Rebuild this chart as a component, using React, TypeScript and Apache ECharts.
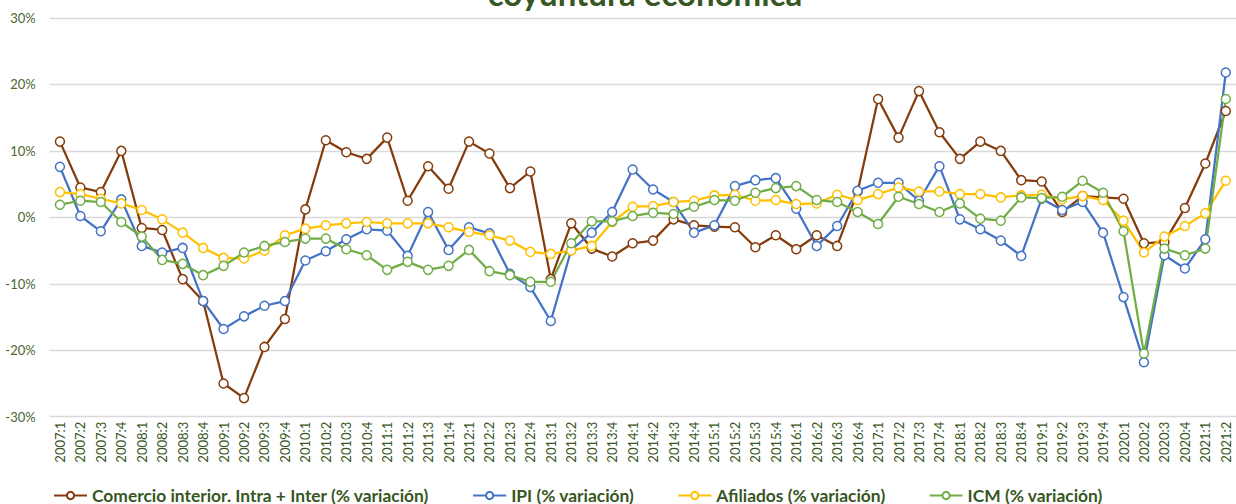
import React, { useEffect, useRef } from "react";
import * as echarts from "echarts";

const categories = [
  "2007:1","2007:2","2007:3","2007:4","2008:1","2008:2","2008:3","2008:4",
  "2009:1","2009:2","2009:3","2009:4","2010:1","2010:2","2010:3","2010:4",
  "2011:1","2011:2","2011:3","2011:4","2012:1","2012:2","2012:3","2012:4",
  "2013:1","2013:2","2013:3","2013:4","2014:1","2014:2","2014:3","2014:4",
  "2015:1","2015:2","2015:3","2015:4","2016:1","2016:2","2016:3","2016:4",
  "2017:1","2017:2","2017:3","2017:4","2018:1","2018:2","2018:3","2018:4",
  "2019:1","2019:2","2019:3","2019:4","2020:1","2020:2","2020:3","2020:4",
  "2021:1","2021:2"
];

const comercio = [11.4, 4.5, 3.8, 10.0, -1.6, -1.9, -9.3, -12.6, -25.0, -27.2, -19.5, -15.3, 1.2, 11.6, 9.8, 8.8, 12.0, 2.5, 7.7, 4.3, 11.4, 9.6, 4.4, 6.9, -9.3, -0.9, -4.7, -5.9, -3.9, -3.5, -0.3, -1.2, -1.4, -1.5, -4.5, -2.7, -4.8, -2.7, -4.3, 3.9, 17.8, 12.0, 19.0, 12.8, 8.8, 11.4, 10.0, 5.6, 5.4, 0.8, 3.2, 3.0, 2.8, -3.9, -3.7, 1.4, 8.1, 16.0];
const ipi = [7.6, 0.2, -2.1, 2.7, -4.3, -5.3, -4.6, -12.6, -16.8, -14.9, -13.3, -12.6, -6.5, -5.1, -3.3, -1.8, -2.0, -5.8, 0.8, -4.9, -1.5, -2.4, -8.5, -10.5, -15.6, -4.9, -2.3, 0.8, 7.2, 4.2, 2.3, -2.3, -1.2, 4.7, 5.6, 5.9, 1.3, -4.3, -1.3, 4.0, 5.2, 5.2, 2.5, 7.7, -0.3, -1.8, -3.5, -5.8, 2.8, 1.1, 2.3, -2.3, -12.0, -21.8, -5.7, -7.7, -3.3, 21.8];
const afiliados = [3.8, 3.5, 2.8, 2.1, 1.1, -0.3, -2.3, -4.6, -6.1, -6.2, -5.0, -2.7, -1.7, -1.2, -0.9, -0.7, -0.9, -0.9, -0.9, -1.5, -2.2, -2.7, -3.5, -5.2, -5.5, -5.0, -4.3, -0.7, 1.6, 1.7, 2.3, 2.5, 3.3, 3.4, 2.5, 2.6, 2.0, 2.1, 3.4, 2.6, 3.5, 4.5, 3.9, 3.9, 3.5, 3.5, 3.0, 3.3, 3.4, 2.7, 3.2, 2.6, -0.5, -5.3, -2.9, -1.3, 0.6, 5.5];
const icm = [1.9, 2.5, 2.3, -0.7, -2.9, -6.4, -7.0, -8.7, -7.3, -5.3, -4.3, -3.7, -3.2, -3.2, -4.8, -5.7, -7.9, -6.7, -7.9, -7.3, -4.9, -8.1, -8.7, -9.7, -9.7, -3.9, -0.6, -0.6, 0.2, 0.7, 0.5, 1.6, 2.6, 2.5, 3.7, 4.4, 4.7, 2.6, 2.3, 0.8, -1.0, 3.1, 2.0, 0.8, 2.1, -0.2, -0.5, 3.0, 2.9, 3.1, 5.5, 3.7, -2.1, -20.5, -4.7, -5.7, -4.7, 17.8];

const seriesNames = [
  "Comercio interior. Intra + Inter (% variación)",
  "IPI (% variación)",
  "Afiliados (% variación)",
  "ICM (% variación)"
];
const seriesColors = ["#843C0C", "#4472C4", "#FFC000", "#70AD47"];
const seriesData = [comercio, ipi, afiliados, icm];

const titleText = "coyuntura económica";
const textGreen = "#375623";
const FONT = "Lato, 'Open Sans', sans-serif";

export default function App() {
  const ref = useRef<HTMLDivElement>(null);
  useEffect(() => {
    if (!ref.current) return;
    const chart = echarts.init(ref.current, undefined, { renderer: "svg" });
    chart.setOption({
      animation: false,
      backgroundColor: "#ffffff",
      textStyle: { fontFamily: FONT },
      graphic: [
        {
          type: "text",
          x: 645,
          y: 9,
          style: {
            text: titleText,
            x: 0,
            y: 0,
            align: "center",
            verticalAlign: "bottom",
            fill: textGreen,
            font: "bold 33px " + FONT
          }
        }
      ],
      legend: {
        left: 53,
        top: 487,
        padding: 0,
        itemWidth: 33,
        itemHeight: 9,
        itemGap: 43,
        data: seriesNames,
        textStyle: {
          color: textGreen,
          fontSize: 17.4,
          lineHeight: 17,
          fontWeight: "bold",
          fontFamily: FONT
        }
      },
      grid: {
        left: 49.7,
        top: 18,
        width: 1195,
        height: 398.7,
        containLabel: false
      },
      xAxis: {
        type: "category",
        data: categories,
        boundaryGap: true,
        axisLine: { show: false },
        axisTick: { show: false },
        axisLabel: {
          interval: 0,
          rotate: 90,
          color: textGreen,
          fontSize: 13,
          fontFamily: FONT,
          margin: 5
        },
        splitLine: { show: false }
      },
      yAxis: {
        type: "value",
        min: -30,
        max: 30,
        interval: 10,
        axisLine: { show: false },
        axisTick: { show: false },
        axisLabel: {
          formatter: (v: number) => `${v}%`,
          color: "#4A6630",
          fontSize: 13,
          fontFamily: FONT,
          margin: 14
        },
        splitLine: { show: true, lineStyle: { color: "#D9D9D9", width: 1.3 } }
      },
      series: seriesNames.map((name, i) => ({
        name,
        type: "line",
        data: seriesData[i],
        symbol: "circle",
        symbolSize: 9,
        showSymbol: true,
        lineStyle: { color: seriesColors[i], width: 2.25 },
        itemStyle: { color: "#ffffff", borderColor: seriesColors[i], borderWidth: 1.5 },
        emphasis: { disabled: true }
      }))
    });
    return () => chart.dispose();
  }, []);
  return (
    <div
      ref={ref}
      style={{ position: "fixed", left: 0, top: 0, width: 1236, height: 504 }}
    />
  );
}
